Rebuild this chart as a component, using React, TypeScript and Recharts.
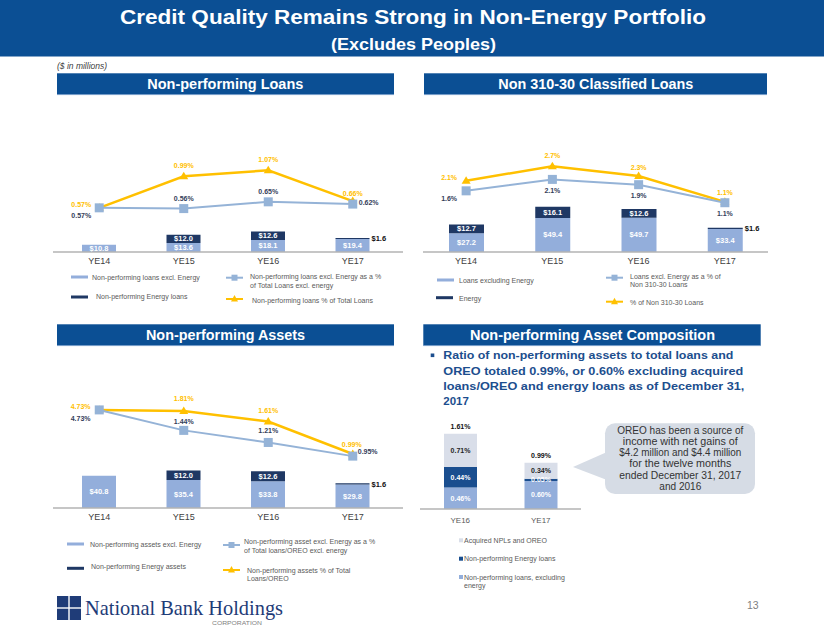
import React from 'react';
import { ComposedChart, Bar, Line, XAxis, YAxis, LabelList } from 'recharts';

// ---------- data ----------
const years = ['YE14', 'YE15', 'YE16', 'YE17'];

// Non-performing Loans ($M and %)
const nplExEnergy = [10.8, 13.6, 18.1, 19.4];
const nplEnergy = [null, 12.0, 12.6, 1.6];
const nplExEnergyPct = [0.57, 0.56, 0.65, 0.62];
const nplTotalPct = [0.57, 0.99, 1.07, 0.66];

// Non 310-30 Classified Loans ($M and %)
const clsExEnergy = [27.2, 49.4, 49.7, 33.4];
const clsEnergy = [12.7, 16.1, 12.6, 1.6];
const clsExEnergyPct = [1.6, 2.12, 1.88, 1.06];
const clsTotalPct = [2.06, 2.72, 2.27, 1.1];

// Non-performing Assets ($M and %)
const npaExEnergy = [40.8, 35.4, 33.8, 29.8];
const npaEnergy = [null, 12.0, 12.6, 1.6];
const npaExEnergyPct = [1.83, 1.44, 1.21, 0.95];
const npaTotalPct = [1.83, 1.81, 1.61, 0.99];
const npaExEnergyPctLabels = ['4.73%', '1.44%', '1.21%', '0.95%'];
const npaTotalPctLabels = ['4.73%', '1.81%', '1.61%', '0.99%'];

// Non-performing Asset Composition (%)
const compYears = ['YE16', 'YE17'];
const compExEnergy = [0.46, 0.6];
const compEnergy = [0.44, 0.05];
const compAcquired = [0.71, 0.34];

// ---------- styles ----------
const FONT = "'Liberation Sans', Arial, sans-serif";
const HEAD = '#0B4F94';
const LIGHT = '#93AEDB';
const NAVY = '#1F3864';
const GOLD = '#FFC000';
const LINEBLUE = '#95B3D7';
const LABELNAVY = '#34405A';
const COMP_DARK = '#1A4E8F';
const PALE = '#D9DEE9';
const AXIS = '#B3B3B3';
const LEG = '#595959';

type Pos = [number, number, 'start' | 'middle' | 'end'];

const c1Gold: Pos[] = [[-18, -3.5, 'middle'], [0, -11, 'middle'], [0, -10.6, 'middle'], [0, -8, 'middle']];
const c1Blue: Pos[] = [[-18, 8, 'middle'], [0, -10.4, 'middle'], [0, -10.7, 'middle'], [6, -1.5, 'start']];
const c2Gold: Pos[] = [[-17, -3.5, 'middle'], [0, -11, 'middle'], [0, -8.5, 'middle'], [0, -9.7, 'middle']];
const c2Blue: Pos[] = [[-17, 8, 'middle'], [0, 11, 'middle'], [0, 10.6, 'middle'], [0, 10.3, 'middle']];
const c3Gold: Pos[] = [[-18.6, -3.4, 'middle'], [0, -12, 'middle'], [0, -11.3, 'middle'], [-1, -10, 'middle']];
const c3Blue: Pos[] = [[-18.6, 8.3, 'middle'], [0, -8.7, 'middle'], [0, -11.6, 'middle'], [5, -4.7, 'start']];

const num = (a: any, b: any) => {
  const v = a !== undefined && a !== null ? a : b;
  return v === undefined || v === null ? NaN : Number(v);
};
const box = (props: any) => {
  const vb = props.viewBox || {};
  return {
    x: num(props.x, vb.x),
    y: num(props.y, vb.y),
    w: num(props.width, vb.width),
    h: num(props.height, vb.height),
  };
};

const pctLabel = (texts: string[], pos: Pos[], color: string) => (props: any) => {
  const i = props.index;
  const { x, y } = box(props);
  if (i === undefined || isNaN(x) || isNaN(y)) return null;
  const [dx, dy, anchor] = pos[i];
  return (
    <text key={`pl-${color}-${i}`} x={x + dx} y={y + dy} textAnchor={anchor} dominantBaseline="central"
      fill={color} fontSize={7} fontWeight="bold" fontFamily={FONT}>{texts[i]}</text>
  );
};

const moneyLabel = (smallOutside: boolean) => (props: any) => {
  const v = typeof props.value === 'number' ? props.value : Number(props.value);
  if (!v || isNaN(v)) return null;
  const { x, y, w, h } = box(props);
  if (isNaN(x)) return null;
  const txt = '$' + v.toFixed(1);
  if (smallOutside && v < 5) {
    return (
      <text key={`ml-${x}`} x={x + w + 2} y={y + h / 2 + 0.5} textAnchor="start" dominantBaseline="central"
        fill="#111" fontSize={7.5} fontWeight="bold" fontFamily={FONT}>{txt}</text>
    );
  }
  return (
    <text key={`ml-${x}`} x={x + w / 2} y={y + h / 2} textAnchor="middle" dominantBaseline="central"
      fill="#fff" fontSize={7.5} fontWeight="bold" fontFamily={FONT}>{txt}</text>
  );
};

const compLabel = (vals: number[], color: string, withTotal: boolean) => (props: any) => {
  const i = props.index;
  const v = vals[i];
  const { x, y, w, h } = box(props);
  if (isNaN(x) || v === undefined) return null;
  const total = compExEnergy[i] + compEnergy[i] + compAcquired[i];
  return (
    <g key={`cl-${color}-${i}`}>
      <text x={x + w / 2} y={y + h / 2} textAnchor="middle" dominantBaseline="central" fill={color}
        fontSize={7} fontWeight="bold" fontFamily={FONT}>{v.toFixed(2) + '%'}</text>
      {withTotal ? (
        <text x={x + w / 2} y={y - 7} textAnchor="middle" dominantBaseline="central" fill="#111"
          fontSize={7} fontWeight="bold" fontFamily={FONT}>{total.toFixed(2) + '%'}</text>
      ) : null}
    </g>
  );
};

const squareDot = (p: any) => {
  if (p.cx == null || p.cy == null) return <g key={`sq-${p.index}`} />;
  return <rect key={`sq-${p.index}`} x={p.cx - 4.5} y={p.cy - 4.5} width={9} height={9} fill={LINEBLUE} />;
};
const triDot = (p: any) => {
  if (p.cx == null || p.cy == null) return <g key={`tr-${p.index}`} />;
  const { cx, cy } = p;
  return <path key={`tr-${p.index}`} d={`M${cx},${cy - 4.5} L${cx + 4.5},${cy + 3} L${cx - 4.5},${cy + 3} Z`} fill={GOLD} />;
};

const xTick = { fontSize: 9, fill: '#404040', fontFamily: FONT };

function ComboChart(props: {
  width: number; height: number; top: number; padding: { left: number; right: number };
  ex: number[]; en: (number | null)[]; exPct: number[]; totPct: number[];
  barMax: number; pctDomain: [number, number]; barSize: number;
  goldTexts: string[]; blueTexts: string[]; goldPos: Pos[]; bluePos: Pos[]; rightMargin: number;
}) {
  const data = years.map((c, i) => ({
    cat: c, ex: props.ex[i], en: props.en[i], exPct: props.exPct[i], totPct: props.totPct[i],
  }));
  return (
    <ComposedChart width={props.width} height={props.height} data={data}
      margin={{ top: props.top, right: props.rightMargin, bottom: 0, left: 0 }}>
      <XAxis dataKey="cat" height={22} padding={props.padding} tickSize={0} tickMargin={6} interval={0}
        axisLine={{ stroke: AXIS, strokeWidth: 1.5 }} tick={xTick} />
      <YAxis yAxisId="bar" hide domain={[0, props.barMax]} allowDataOverflow />
      <YAxis yAxisId="pct" hide orientation="right" domain={props.pctDomain} allowDataOverflow />
      <Bar yAxisId="bar" dataKey="ex" stackId="s" fill={LIGHT} barSize={props.barSize} isAnimationActive={false}>
        <LabelList dataKey="ex" content={moneyLabel(false)} />
      </Bar>
      <Bar yAxisId="bar" dataKey="en" stackId="s" fill={NAVY} barSize={props.barSize} isAnimationActive={false}>
        <LabelList dataKey="en" content={moneyLabel(true)} />
      </Bar>
      <Line yAxisId="pct" type="linear" dataKey="totPct" stroke={GOLD} strokeWidth={2.5} dot={triDot}
        activeDot={false} isAnimationActive={false}>
        <LabelList dataKey="totPct" content={pctLabel(props.goldTexts, props.goldPos, GOLD)} />
      </Line>
      <Line yAxisId="pct" type="linear" dataKey="exPct" stroke={LINEBLUE} strokeWidth={2} dot={squareDot}
        activeDot={false} isAnimationActive={false}>
        <LabelList dataKey="exPct" content={pctLabel(props.blueTexts, props.bluePos, LABELNAVY)} />
      </Line>
    </ComposedChart>
  );
}

function CompChart() {
  const data = compYears.map((c, i) => ({ cat: c, ex: compExEnergy[i], en: compEnergy[i], acq: compAcquired[i] }));
  return (
    <ComposedChart width={161} height={121} data={data} margin={{ top: 10, right: 0, bottom: 0, left: 0 }}>
      <XAxis dataKey="cat" height={22} tickSize={0} tickMargin={8} interval={0}
        axisLine={{ stroke: AXIS, strokeWidth: 1.5 }} tick={{ fontSize: 8, fill: '#595959', fontFamily: FONT }} />
      <YAxis hide domain={[0, 1.906]} allowDataOverflow />
      <Bar dataKey="ex" stackId="c" fill={LIGHT} barSize={33} isAnimationActive={false}>
        <LabelList dataKey="ex" content={compLabel(compExEnergy, '#fff', false)} />
      </Bar>
      <Bar dataKey="en" stackId="c" fill={COMP_DARK} barSize={33} isAnimationActive={false}>
        <LabelList dataKey="en" content={compLabel(compEnergy, '#fff', false)} />
      </Bar>
      <Bar dataKey="acq" stackId="c" fill={PALE} barSize={33} isAnimationActive={false}>
        <LabelList dataKey="acq" content={compLabel(compAcquired, '#262626', true)} />
      </Bar>
    </ComposedChart>
  );
}

// ---------- slide decorations ----------
const T = (p: { x: number; y: number; s: number; c?: string; b?: boolean; i?: boolean; len?: number; a?: 'start' | 'middle' | 'end'; f?: string; ls?: number; children: any }) => (
  <text x={p.x} y={p.y} fontSize={p.s} fill={p.c || LEG} fontWeight={p.b ? 'bold' : 'normal'}
    fontStyle={p.i ? 'italic' : 'normal'} fontFamily={p.f || FONT} dominantBaseline="central"
    textAnchor={p.a || 'start'} letterSpacing={p.ls}
    {...(p.len ? { textLength: p.len, lengthAdjust: 'spacingAndGlyphs' } : {})}>{p.children}</text>
);

const SwLine = ({ x, y, c }: { x: number; y: number; c: string }) => (
  <rect x={x} y={y - 1.5} width={17} height={3} fill={c} />
);
const SwSquare = ({ x, y }: { x: number; y: number }) => (
  <g>
    <rect x={x} y={y - 1} width={17} height={2} fill={LINEBLUE} />
    <rect x={x + 5.5} y={y - 3} width={6} height={6} fill={LINEBLUE} />
  </g>
);
const SwTri = ({ x, y }: { x: number; y: number }) => (
  <g>
    <rect x={x} y={y - 1} width={17} height={2} fill={GOLD} />
    <path d={`M${x + 8.5},${y - 4} L${x + 12},${y + 2.5} L${x + 5},${y + 2.5} Z`} fill={GOLD} />
  </g>
);

const SectionBox = ({ x, y, w, label, tx, len }: { x: number; y: number; w: number; label: string; tx: number; len: number }) => (
  <g>
    <rect x={x} y={y} width={w} height={21.5} fill={HEAD} />
    <rect x={x} y={y + 21} width={w} height={0.8} fill="#8FB0D6" />
    <T x={tx} y={y + 10.5} s={14} c="#fff" b len={len}>{label}</T>
  </g>
);

function Backdrop() {
  const bubbleLines = [
    ['OREO has been a source of', 126],
    ['income with net gains of', 115],
    ['$4.2 million and $4.4 million', 122],
    ['for the twelve months', 102],
    ['ended December 31, 2017', 122],
    ['and 2016', 42],
  ] as [string, number][];
  return (
    <svg width={824} height={637} style={{ position: 'absolute', left: 0, top: 0 }}>
      <rect x={0} y={0} width={824} height={56.5} fill={HEAD} />
      <T x={120} y={16} s={21} c="#fff" b len={586}>Credit Quality Remains Strong in Non-Energy Portfolio</T>
      <T x={331} y={44} s={17} c="#fff" b len={165}>(Excludes Peoples)</T>
      <T x={57} y={66} s={8.5} c="#404040" i>($ in millions)</T>

      <SectionBox x={57} y={73.3} w={337} label="Non-performing Loans" tx={147.3} len={156} />
      <SectionBox x={424} y={73.3} w={343} label="Non 310-30 Classified Loans" tx={498.3} len={195} />
      <SectionBox x={57} y={324.3} w={337} label="Non-performing Assets" tx={146} len={159} />
      <SectionBox x={423.3} y={324.3} w={337.4} label="Non-performing Asset Composition" tx={470} len={245} />

      {/* legend chart 1 */}
      <SwLine x={71} y={277} c={LIGHT} />
      <T x={92} y={277} s={7}>Non-performing loans excl. Energy</T>
      <SwLine x={71} y={297} c={NAVY} />
      <T x={96} y={296} s={7}>Non-performing Energy loans</T>
      <SwSquare x={226} y={277.7} />
      <T x={250} y={276.7} s={7}>Non-performing loans excl. Energy as a %</T>
      <T x={250} y={285} s={7}>of Total Loans excl. energy</T>
      <SwTri x={226} y={299} />
      <T x={252} y={300.7} s={7}>Non-performing loans % of Total Loans</T>

      {/* legend chart 2 */}
      <SwLine x={437} y={280} c={LIGHT} />
      <T x={459} y={280.7} s={7}>Loans excluding Energy</T>
      <SwLine x={436} y={297.7} c={NAVY} />
      <T x={459} y={298.7} s={7}>Energy</T>
      <SwSquare x={606} y={277.7} />
      <T x={630} y={276} s={7}>Loans excl. Energy as a % of</T>
      <T x={630} y={284.3} s={7}>Non 310-30 Loans</T>
      <SwTri x={606} y={301.7} />
      <T x={630} y={302.3} s={7}>% of Non 310-30 Loans</T>

      {/* legend chart 3 */}
      <SwLine x={67} y={544} c={LIGHT} />
      <T x={90} y={544.3} s={7}>Non-performing assets excl. Energy</T>
      <SwLine x={67} y={568.3} c={NAVY} />
      <T x={91} y={566.7} s={7}>Non-performing Energy assets</T>
      <SwSquare x={223} y={545} />
      <T x={244} y={541.7} s={7}>Non-performing asset excl. Energy as a %</T>
      <T x={244} y={550} s={7}>of Total loans/OREO excl. energy</T>
      <SwTri x={223} y={570} />
      <T x={247} y={570.3} s={7}>Non-performing assets % of Total</T>
      <T x={247} y={578.7} s={7}>Loans/OREO</T>

      {/* legend chart 4 */}
      <rect x={459} y={538.3} width={4} height={4} fill={PALE} />
      <T x={464} y={540.3} s={7}>Acquired NPLs and OREO</T>
      <rect x={459} y={556.7} width={4} height={4} fill={COMP_DARK} />
      <T x={464} y={558.7} s={7}>Non-performing Energy loans</T>
      <rect x={459} y={575} width={4} height={4} fill={LIGHT} />
      <T x={464} y={577} s={7}>Non-performing loans, excluding</T>
      <T x={464} y={585.7} s={7}>energy</T>

      {/* bullet */}
      <rect x={430.7} y={353.5} width={3.6} height={3.6} fill="#1C4E8E" />
      <T x={443.3} y={355} s={11.5} c="#1C4E8E" b len={290}>Ratio of non-performing assets to total loans and</T>
      <T x={443.3} y={370.5} s={11.5} c="#1C4E8E" b len={300}>OREO totaled 0.99%, or 0.60% excluding acquired</T>
      <T x={443.3} y={385.7} s={11.5} c="#1C4E8E" b len={301}>loans/OREO and energy loans as of December 31,</T>
      <T x={443.3} y={400.7} s={11.5} c="#1C4E8E" b>2017</T>

      {/* callout bubble */}
      <path d="M573,467 L607,452 L607,480 Z" fill="#D6DCE5" />
      <rect x={605} y={423.3} width={150} height={70.7} rx={10} ry={10} fill="#D6DCE5" />
      {bubbleLines.map(([s, l], i) => (
        <T key={i} x={680.3 - l / 2} y={430 + i * 11.3} s={10} c="#333" len={l}>{s}</T>
      ))}

      {/* footer */}
      <rect x={57} y={596} width={11.3} height={11.3} fill="#1F3C78" />
      <rect x={69.7} y={596} width={11.3} height={11.3} fill="#1F3C78" />
      <rect x={57} y={608.7} width={11.3} height={11.3} fill="#1F3C78" />
      <rect x={69.7} y={608.7} width={11.3} height={11.3} fill="#1F3C78" />
      <T x={85} y={607} s={22} c="#1F3C78" f="'Liberation Serif', 'Times New Roman', serif" len={198}>National Bank Holdings</T>
      <T x={212} y={622.5} s={5.5} c="#7F7F7F" len={50}>CORPORATION</T>
      <T x={747} y={605} s={10.5} c="#7F7F7F">13</T>
    </svg>
  );
}

export default function App() {
  return (
    <div style={{ position: 'absolute', left: 0, top: 0, width: 824, height: 637, background: '#fff', overflow: 'hidden' }}>
      <Backdrop />
      <div style={{ position: 'absolute', left: 53, top: 90 }}>
        <ComboChart width={350} height={184} top={10} rightMargin={0} padding={{ left: 4, right: 8 }}
          ex={nplExEnergy} en={nplEnergy} exPct={nplExEnergyPct} totPct={nplTotalPct}
          barMax={227} pctDomain={[-0.019, 2.008]} barSize={34}
          goldTexts={nplTotalPct.map((v) => v.toFixed(2) + '%')}
          blueTexts={nplExEnergyPct.map((v) => v.toFixed(2) + '%')}
          goldPos={c1Gold} bluePos={c1Blue} />
      </div>
      <div style={{ position: 'absolute', left: 423, top: 90 }}>
        <ComboChart width={360} height={184} top={10} rightMargin={15} padding={{ left: 0, right: 0 }}
          ex={clsExEnergy} en={clsEnergy} exPct={clsExEnergyPct} totPct={clsTotalPct}
          barMax={220.3} pctDomain={[-1.18, 5.729]} barSize={35}
          goldTexts={clsTotalPct.map((v) => v.toFixed(1) + '%')}
          blueTexts={clsExEnergyPct.map((v) => v.toFixed(1) + '%')}
          goldPos={c2Gold} bluePos={c2Blue} />
      </div>
      <div style={{ position: 'absolute', left: 53, top: 378 }}>
        <ComboChart width={350} height={152} top={14} rightMargin={0} padding={{ left: 4, right: 8 }}
          ex={npaExEnergy} en={npaEnergy} exPct={npaExEnergyPct} totPct={npaTotalPct}
          barMax={146.8} pctDomain={[-0.038, 2.171]} barSize={34}
          goldTexts={npaTotalPctLabels} blueTexts={npaExEnergyPctLabels}
          goldPos={c3Gold} bluePos={c3Blue} />
      </div>
      <div style={{ position: 'absolute', left: 420, top: 410 }}>
        <CompChart />
      </div>
    </div>
  );
}
